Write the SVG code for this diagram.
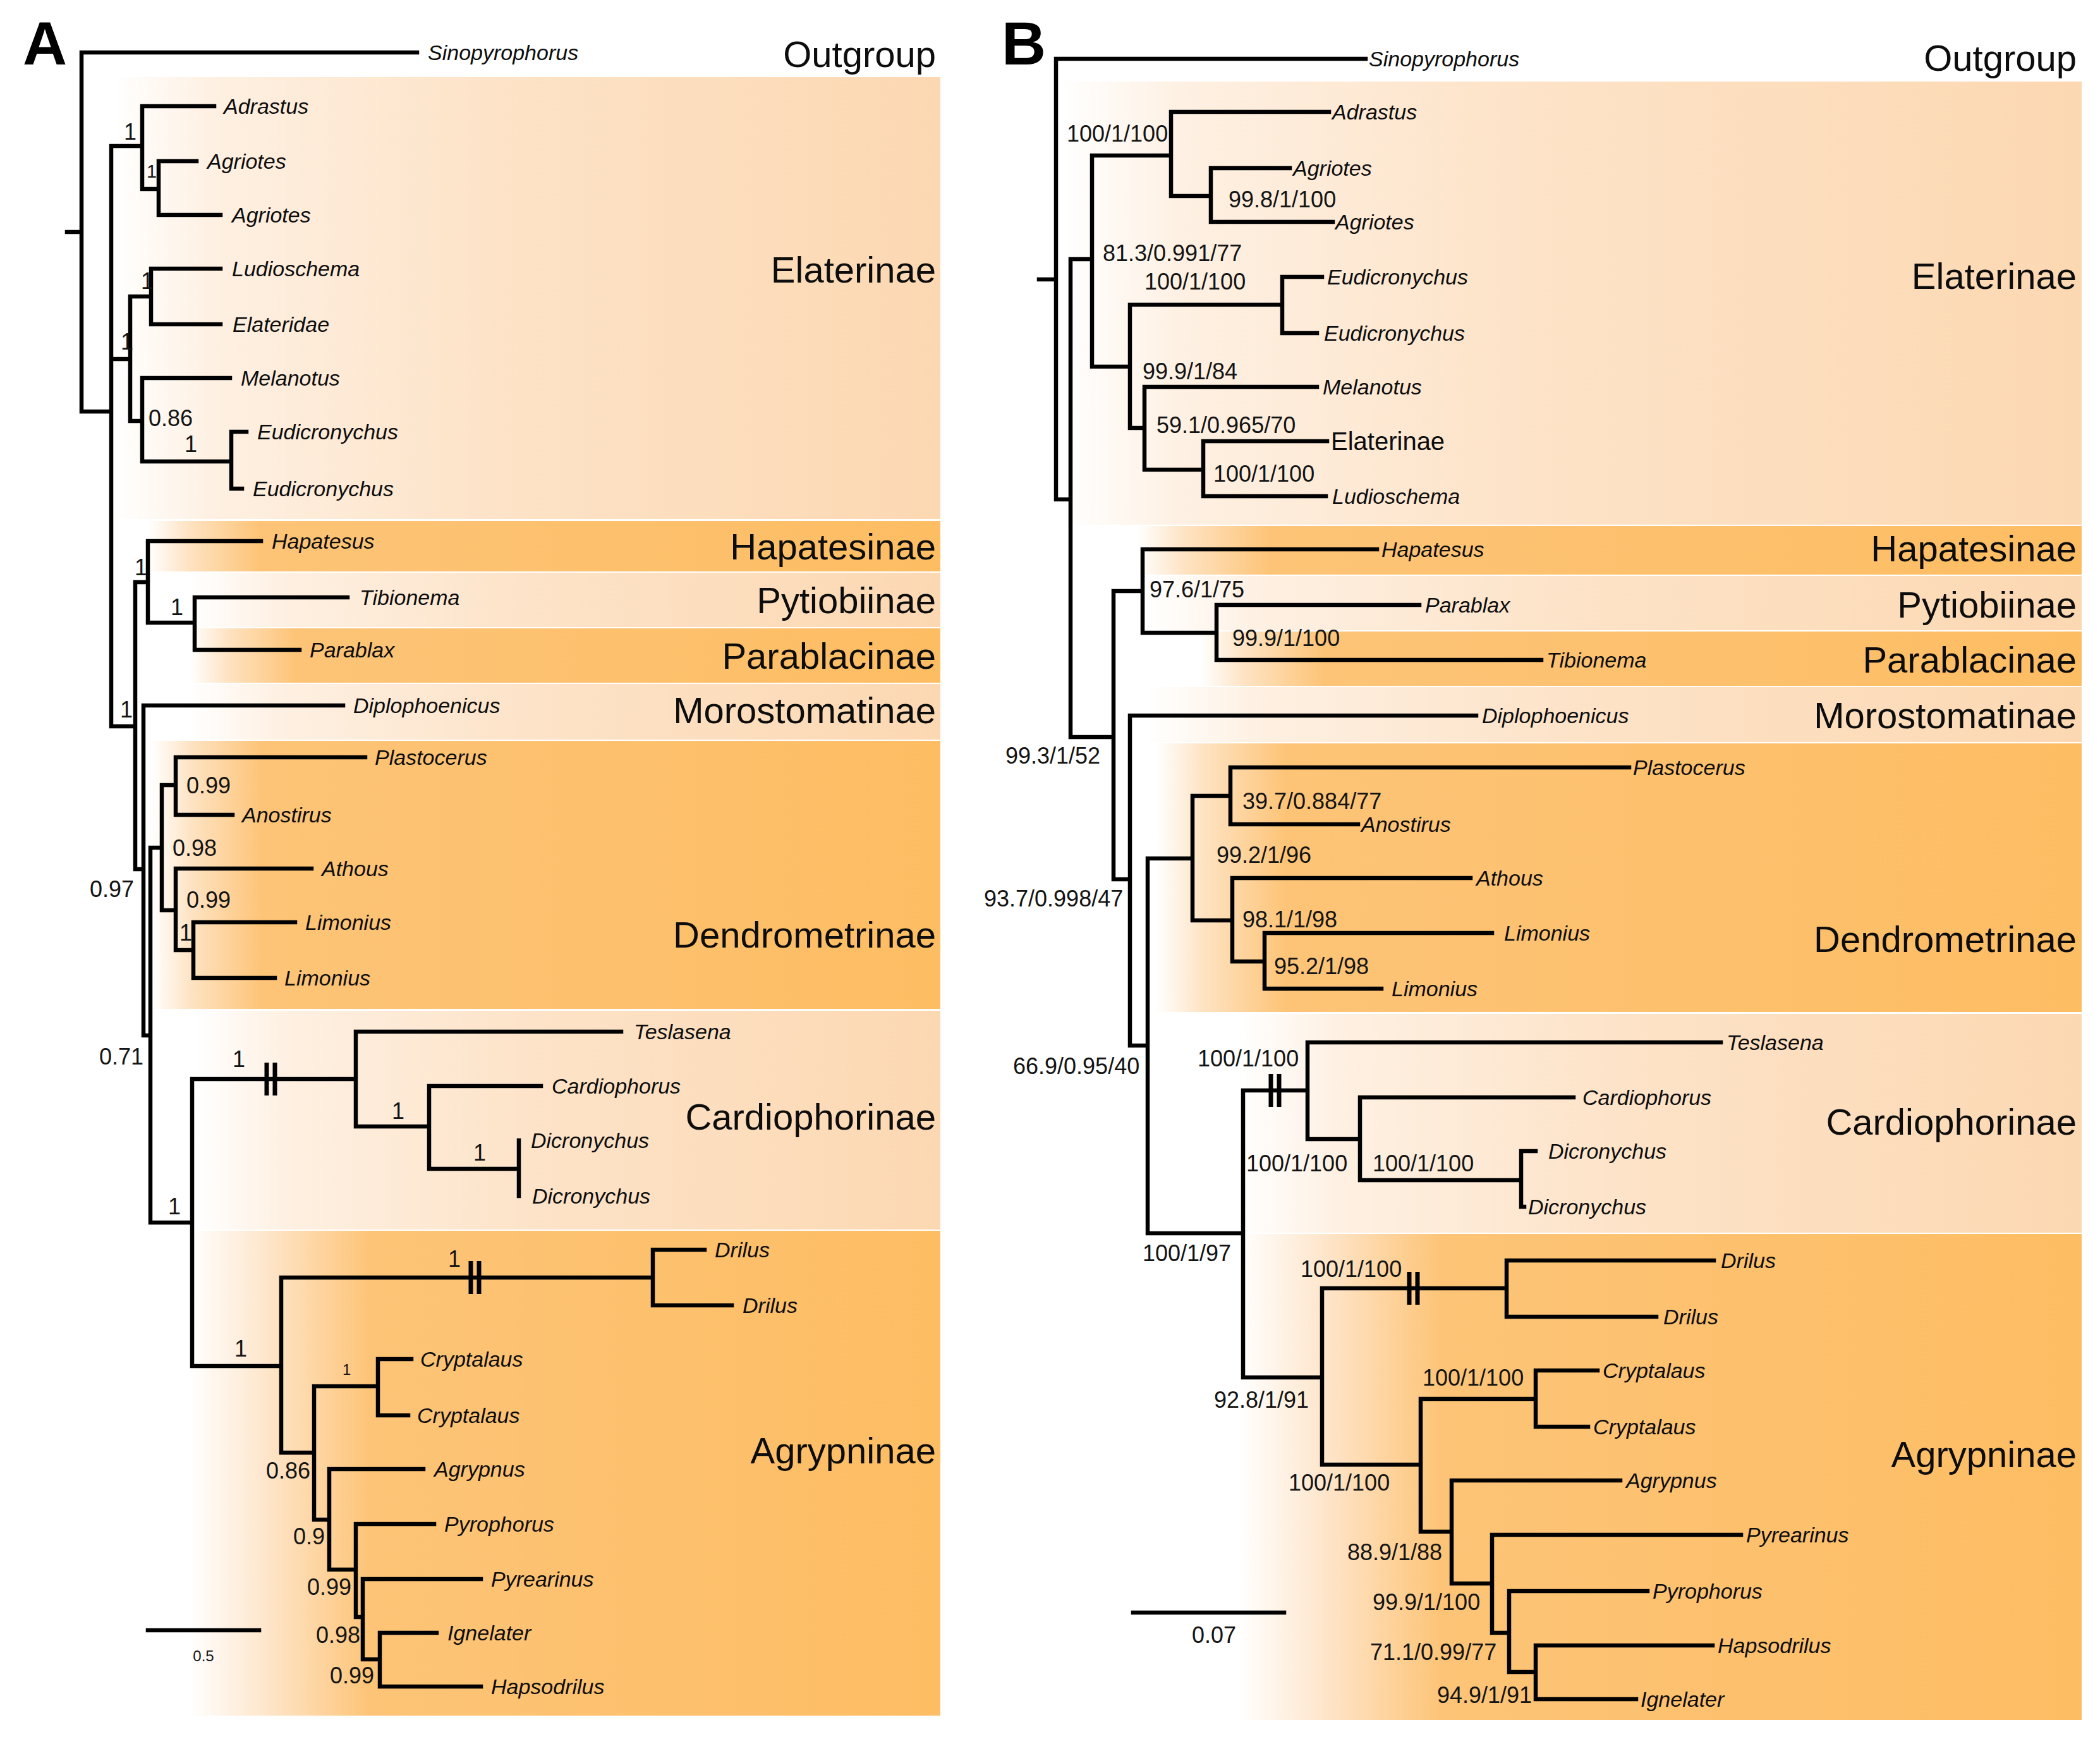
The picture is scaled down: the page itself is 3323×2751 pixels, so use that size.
<svg xmlns="http://www.w3.org/2000/svg" width="3323" height="2751" viewBox="0 0 3323 2751">
<style>
.br{fill:none;stroke:#000;stroke-width:6.5;stroke-linecap:square}
.bk{fill:none;stroke:#000;stroke-width:7}
.tx{font-family:"Liberation Sans",Arial,sans-serif;font-style:italic;font-size:34px;fill:#0d0d0d}
.tr{font-family:"Liberation Sans",Arial,sans-serif;font-size:40px;fill:#0d0d0d}
.sp{font-family:"Liberation Sans",Arial,sans-serif;font-size:36px;fill:#141414}
.ss{font-family:"Liberation Sans",Arial,sans-serif;font-size:29px;fill:#141414}
.sx{font-family:"Liberation Sans",Arial,sans-serif;font-size:24px;fill:#141414}
.gr{font-family:"Liberation Sans",Arial,sans-serif;font-size:58px;fill:#0d0d0d;text-anchor:end}
.pl{font-family:"Liberation Sans",Arial,sans-serif;font-size:97px;font-weight:bold;fill:#000}
</style>
<defs>
<linearGradient id="gL" x1="0" y1="0" x2="1" y2="0">
<stop offset="0" stop-color="#ffffff"/>
<stop offset="0.12" stop-color="#fef0e2"/>
<stop offset="0.45" stop-color="#fde3c8"/>
<stop offset="1" stop-color="#fcd8b2"/>
</linearGradient>
<linearGradient id="gD" x1="0" y1="0" x2="1" y2="0">
<stop offset="0" stop-color="#ffffff"/>
<stop offset="0.05" stop-color="#fee3c3"/>
<stop offset="0.14" stop-color="#fdc477"/>
<stop offset="1" stop-color="#fdbd63"/>
</linearGradient>
<linearGradient id="gD2" x1="0" y1="0" x2="1" y2="0">
<stop offset="0" stop-color="#ffffff"/>
<stop offset="0.1" stop-color="#fee6cc"/>
<stop offset="0.24" stop-color="#fdc477"/>
<stop offset="1" stop-color="#fdbd63"/>
</linearGradient>
</defs>
<rect width="3323" height="2751" fill="#ffffff"/>

<g id="bands-A">
<rect x="180" y="122" width="1308" height="699" fill="url(#gL)"/>
<rect x="235" y="824" width="1253" height="80" fill="url(#gD)"/>
<rect x="300" y="906" width="1188" height="86" fill="url(#gL)"/>
<rect x="300" y="994" width="1188" height="86" fill="url(#gD)"/>
<rect x="300" y="1082" width="1188" height="88" fill="url(#gL)"/>
<rect x="240" y="1172" width="1248" height="424" fill="url(#gD)"/>
<rect x="310" y="1599" width="1178" height="346" fill="url(#gL)"/>
<rect x="300" y="1947" width="1188" height="767" fill="url(#gD2)"/>
</g>
<g id="bands-B">
<rect x="1680" y="129" width="1614" height="701" fill="url(#gL)"/>
<rect x="1800" y="832" width="1494" height="77" fill="url(#gD)"/>
<rect x="1813" y="911" width="1481" height="86" fill="url(#gL)"/>
<rect x="1900" y="999" width="1394" height="86" fill="url(#gD)"/>
<rect x="1813" y="1087" width="1481" height="87" fill="url(#gL)"/>
<rect x="1830" y="1176" width="1464" height="425" fill="url(#gD)"/>
<rect x="1960" y="1604" width="1334" height="346" fill="url(#gL)"/>
<rect x="1960" y="1952" width="1334" height="769" fill="url(#gD2)"/>
</g>

<g id="connectors">
<path class="br" d="M106 367H129 M129 83V651 M129 83H660 M129 651H176 M176 231V1149
M176 231H225 M225 168V299 M225 168H339 M225 299H251 M251 255V340 M251 255H311 M251 340H349
M176 568H206 M206 469V666 M206 469H239 M239 425V513 M239 425H349 M239 513H349
M206 666H225 M225 598V730 M225 598H364 M225 730H366 M366 683V773 M366 683H390 M366 773H383
M176 1149H214 M214 921V1375 M214 921H234 M234 856V985 M234 856H413 M234 985H308 M308 945V1028 M308 945H550 M308 1028H474
M214 1375H227 M227 1116V1638 M227 1116H543 M227 1638H238 M238 1341V1934
M238 1341H256 M256 1242V1440 M256 1242H278 M278 1198V1289 M278 1198H578 M278 1289H368
M256 1440H278 M278 1374V1503 M278 1374H493 M278 1503H306 M306 1459V1547 M306 1459H467 M306 1547H435
M238 1934H304 M304 1707V2161 M304 1707H563 M563 1632V1782 M563 1632H983 M563 1782H679 M679 1718V1849 M679 1718H856 M679 1849H821 M821 1804V1892
M304 2161H445 M445 2021V2298 M445 2021H1033 M1033 1977V2065 M1033 1977H1115 M1033 2065H1158
M445 2298H497 M497 2193V2404 M497 2193H598 M598 2150V2239 M598 2150H651 M598 2239H646
M497 2404H521 M521 2324V2483 M521 2324H670 M521 2483H563 M563 2411V2558 M563 2411H687 M563 2558H574
M574 2498V2625 M574 2498H761 M574 2625H601 M601 2583V2668 M601 2583H691 M601 2668H761
M234 2579H410"/>
<path class="bk" d="M422 1681V1733 M435 1681V1733 M745 1995V2047 M758 1995V2047"/>
<path class="br" d="M1644 442H1671 M1671 93V790 M1671 93H2161 M1671 790H1694 M1694 410V1166
M1694 410H1728 M1728 246V580 M1728 246H1853 M1853 177V310 M1853 177H2103 M1853 310H1916 M1916 266V351 M1916 266H2041 M1916 351H2109
M1728 580H1788 M1788 482V677 M1788 482H2029 M2029 438V527 M2029 438H2092 M2029 527H2084
M1788 677H1811 M1811 612V743 M1811 612H2084 M1811 743H1904 M1904 698V785 M1904 698H2100 M1904 785H2098
M1694 1166H1762 M1762 935V1391 M1762 935H1808 M1808 869V1001 M1808 869H2179 M1808 1001H1925 M1925 957V1044 M1925 957H2246 M1925 1044H2439
M1762 1391H1788 M1788 1132V1654 M1788 1132H2336 M1788 1654H1816 M1816 1358V1951
M1816 1358H1887 M1887 1259V1456 M1887 1259H1947 M1947 1214V1304 M1947 1214H2578 M1947 1304H2149
M1887 1456H1950 M1950 1389V1521 M1950 1389H2327 M1950 1521H2001 M2001 1476V1564 M2001 1476H2361 M2001 1564H2186
M1816 1951H1967 M1967 1725V2179 M1967 1725H2069 M2069 1649V1802 M2069 1649H2723 M2069 1802H2152 M2152 1736V1867 M2152 1736H2490 M2152 1867H2407 M2407 1821V1909 M2407 1821H2430 M2407 1909H2412
M1967 2179H2092 M2092 2038V2317 M2092 2038H2384 M2384 1994V2083 M2384 1994H2712 M2384 2083H2621
M2092 2317H2248 M2248 2213V2423 M2248 2213H2430 M2430 2168V2257 M2430 2168H2528 M2430 2257H2513
M2248 2423H2297 M2297 2342V2505 M2297 2342H2564 M2297 2505H2361 M2361 2428V2583 M2361 2428H2755 M2361 2583H2388
M2388 2517V2645 M2388 2517H2607 M2388 2645H2430 M2430 2603V2688 M2430 2603H2710 M2430 2688H2589
M1793 2551H2032"/>
<path class="bk" d="M2011 1699V1751 M2024 1699V1751 M2230 2012V2064 M2243 2012V2064"/>
</g>

<g id="panel-letters">
<text class="pl" x="36" y="102">A</text>
<text class="pl" x="1585" y="102">B</text>
</g>

<g id="groups-A">
<text class="gr" x="1481" y="106">Outgroup</text>
<text class="gr" x="1481" y="447">Elaterinae</text>
<text class="gr" x="1481" y="885">Hapatesinae</text>
<text class="gr" x="1481" y="970">Pytiobiinae</text>
<text class="gr" x="1481" y="1058">Parablacinae</text>
<text class="gr" x="1481" y="1144">Morostomatinae</text>
<text class="gr" x="1481" y="1499">Dendrometrinae</text>
<text class="gr" x="1481" y="1787">Cardiophorinae</text>
<text class="gr" x="1481" y="2315">Agrypninae</text>
</g>
<g id="groups-B">
<text class="gr" x="3286" y="112">Outgroup</text>
<text class="gr" x="3286" y="457">Elaterinae</text>
<text class="gr" x="3286" y="888">Hapatesinae</text>
<text class="gr" x="3286" y="977">Pytiobiinae</text>
<text class="gr" x="3286" y="1064">Parablacinae</text>
<text class="gr" x="3286" y="1152">Morostomatinae</text>
<text class="gr" x="3286" y="1506">Dendrometrinae</text>
<text class="gr" x="3286" y="1795">Cardiophorinae</text>
<text class="gr" x="3286" y="2321">Agrypninae</text>
</g>

<g id="taxa-A">
<g id="A-t01"><text class="tx" x="677" y="95">Sinopyrophorus</text></g>
<g id="A-t02"><text class="tx" x="354" y="180">Adrastus</text></g>
<g id="A-t03"><text class="tx" x="328" y="267">Agriotes</text></g>
<g id="A-t04"><text class="tx" x="367" y="352">Agriotes</text></g>
<g id="A-t05"><text class="tx" x="367" y="437">Ludioschema</text></g>
<g id="A-t06"><text class="tx" x="368" y="525">Elateridae</text></g>
<g id="A-t07"><text class="tx" x="381" y="610">Melanotus</text></g>
<g id="A-t08"><text class="tx" x="407" y="695">Eudicronychus</text></g>
<g id="A-t09"><text class="tx" x="400" y="785">Eudicronychus</text></g>
<g id="A-t10"><text class="tx" x="430" y="868">Hapatesus</text></g>
<g id="A-t11"><text class="tx" x="569" y="957">Tibionema</text></g>
<g id="A-t12"><text class="tx" x="490" y="1040">Parablax</text></g>
<g id="A-t13"><text class="tx" x="559" y="1128">Diplophoenicus</text></g>
<g id="A-t14"><text class="tx" x="593" y="1210">Plastocerus</text></g>
<g id="A-t15"><text class="tx" x="383" y="1301">Anostirus</text></g>
<g id="A-t16"><text class="tx" x="509" y="1386">Athous</text></g>
<g id="A-t17"><text class="tx" x="483" y="1471">Limonius</text></g>
<g id="A-t18"><text class="tx" x="450" y="1559">Limonius</text></g>
<g id="A-t19"><text class="tx" x="1003" y="1644">Teslasena</text></g>
<g id="A-t20"><text class="tx" x="873" y="1730">Cardiophorus</text></g>
<g id="A-t21"><text class="tx" x="840" y="1816">Dicronychus</text></g>
<g id="A-t22"><text class="tx" x="842" y="1904">Dicronychus</text></g>
<g id="A-t23"><text class="tx" x="1131" y="1989">Drilus</text></g>
<g id="A-t24"><text class="tx" x="1175" y="2077">Drilus</text></g>
<g id="A-t25"><text class="tx" x="665" y="2162">Cryptalaus</text></g>
<g id="A-t26"><text class="tx" x="660" y="2251">Cryptalaus</text></g>
<g id="A-t27"><text class="tx" x="687" y="2336">Agrypnus</text></g>
<g id="A-t28"><text class="tx" x="703" y="2423">Pyrophorus</text></g>
<g id="A-t29"><text class="tx" x="777" y="2510">Pyrearinus</text></g>
<g id="A-t30"><text class="tx" x="708" y="2595">Ignelater</text></g>
<g id="A-t31"><text class="tx" x="777" y="2680">Hapsodrilus</text></g>
</g>

<g id="support-A">
<text class="sp" x="196" y="221">1</text>
<text class="ss" x="232" y="281">1</text>
<text class="sp" x="191" y="553">1</text>
<text class="sp" x="223" y="457">1</text>
<text class="sp" x="235" y="674">0.86</text>
<text class="sp" x="292" y="715">1</text>
<text class="sp" x="213" y="910">1</text>
<text class="sp" x="270" y="973">1</text>
<text class="sp" x="190" y="1135">1</text>
<text class="sp" x="212" y="1419" text-anchor="end">0.97</text>
<text class="sp" x="295" y="1255">0.99</text>
<text class="sp" x="273" y="1354">0.98</text>
<text class="sp" x="295" y="1436">0.99</text>
<text class="sp" x="284" y="1488">1</text>
<text class="sp" x="227" y="1684" text-anchor="end">0.71</text>
<text class="sp" x="266" y="1921">1</text>
<text class="sp" x="368" y="1688">1</text>
<text class="sp" x="620" y="1770">1</text>
<text class="sp" x="749" y="1836">1</text>
<text class="sp" x="371" y="2146">1</text>
<text class="sp" x="709" y="2004">1</text>
<text class="sp" x="421" y="2339">0.86</text>
<text class="sx" x="542" y="2175">1</text>
<text class="sp" x="464" y="2443">0.9</text>
<text class="sp" x="486" y="2523">0.99</text>
<text class="sp" x="500" y="2599">0.98</text>
<text class="sp" x="522" y="2663">0.99</text>
<text class="sx" x="322" y="2628" text-anchor="middle">0.5</text>
</g>

<g id="taxa-B">
<g id="B-t01"><text class="tx" x="2166" y="105">Sinopyrophorus</text></g>
<g id="B-t02"><text class="tx" x="2108" y="189">Adrastus</text></g>
<g id="B-t03"><text class="tx" x="2046" y="278">Agriotes</text></g>
<g id="B-t04"><text class="tx" x="2113" y="363">Agriotes</text></g>
<g id="B-t05"><text class="tx" x="2100" y="450">Eudicronychus</text></g>
<g id="B-t06"><text class="tx" x="2095" y="539">Eudicronychus</text></g>
<g id="B-t07"><text class="tx" x="2093" y="624">Melanotus</text></g>
<g id="B-t08"><text class="tr" x="2106" y="712">Elaterinae</text></g>
<g id="B-t09"><text class="tx" x="2108" y="797">Ludioschema</text></g>
<g id="B-t10"><text class="tx" x="2186" y="881">Hapatesus</text></g>
<g id="B-t11"><text class="tx" x="2255" y="969">Parablax</text></g>
<g id="B-t12"><text class="tx" x="2447" y="1056">Tibionema</text></g>
<g id="B-t13"><text class="tx" x="2345" y="1144">Diplophoenicus</text></g>
<g id="B-t14"><text class="tx" x="2584" y="1226">Plastocerus</text></g>
<g id="B-t15"><text class="tx" x="2154" y="1316">Anostirus</text></g>
<g id="B-t16"><text class="tx" x="2336" y="1401">Athous</text></g>
<g id="B-t17"><text class="tx" x="2380" y="1488">Limonius</text></g>
<g id="B-t18"><text class="tx" x="2202" y="1576">Limonius</text></g>
<g id="B-t19"><text class="tx" x="2732" y="1661">Teslasena</text></g>
<g id="B-t20"><text class="tx" x="2504" y="1748">Cardiophorus</text></g>
<g id="B-t21"><text class="tx" x="2450" y="1833">Dicronychus</text></g>
<g id="B-t22"><text class="tx" x="2418" y="1921">Dicronychus</text></g>
<g id="B-t23"><text class="tx" x="2723" y="2006">Drilus</text></g>
<g id="B-t24"><text class="tx" x="2632" y="2095">Drilus</text></g>
<g id="B-t25"><text class="tx" x="2536" y="2180">Cryptalaus</text></g>
<g id="B-t26"><text class="tx" x="2521" y="2269">Cryptalaus</text></g>
<g id="B-t27"><text class="tx" x="2573" y="2354">Agrypnus</text></g>
<g id="B-t28"><text class="tx" x="2763" y="2440">Pyrearinus</text></g>
<g id="B-t29"><text class="tx" x="2615" y="2529">Pyrophorus</text></g>
<g id="B-t30"><text class="tx" x="2718" y="2615">Hapsodrilus</text></g>
<g id="B-t31"><text class="tx" x="2596" y="2700">Ignelater</text></g>
</g>

<g id="support-B">
<text class="sp" x="1688" y="224">100/1/100</text>
<text class="sp" x="1745" y="413">81.3/0.991/77</text>
<text class="sp" x="1944" y="328">99.8/1/100</text>
<text class="sp" x="1811" y="458">100/1/100</text>
<text class="sp" x="1808" y="600">99.9/1/84</text>
<text class="sp" x="1830" y="685">59.1/0.965/70</text>
<text class="sp" x="1920" y="762">100/1/100</text>
<text class="sp" x="1591" y="1208">99.3/1/52</text>
<text class="sp" x="1819" y="945">97.6/1/75</text>
<text class="sp" x="1950" y="1022">99.9/1/100</text>
<text class="sp" x="1557" y="1434">93.7/0.998/47</text>
<text class="sp" x="1603" y="1699">66.9/0.95/40</text>
<text class="sp" x="1925" y="1365">99.2/1/96</text>
<text class="sp" x="1966" y="1280">39.7/0.884/77</text>
<text class="sp" x="1966" y="1467">98.1/1/98</text>
<text class="sp" x="2016" y="1541">95.2/1/98</text>
<text class="sp" x="1808" y="1995">100/1/97</text>
<text class="sp" x="1895" y="1687">100/1/100</text>
<text class="sp" x="1972" y="1853">100/1/100</text>
<text class="sp" x="2172" y="1853">100/1/100</text>
<text class="sp" x="1921" y="2227">92.8/1/91</text>
<text class="sp" x="2058" y="2020">100/1/100</text>
<text class="sp" x="2039" y="2358">100/1/100</text>
<text class="sp" x="2251" y="2192">100/1/100</text>
<text class="sp" x="2132" y="2468">88.9/1/88</text>
<text class="sp" x="2172" y="2547">99.9/1/100</text>
<text class="sp" x="2168" y="2626">71.1/0.99/77</text>
<text class="sp" x="2274" y="2694">94.9/1/91</text>
<text class="sp" x="1921" y="2599" text-anchor="middle">0.07</text>
</g>
</svg>
